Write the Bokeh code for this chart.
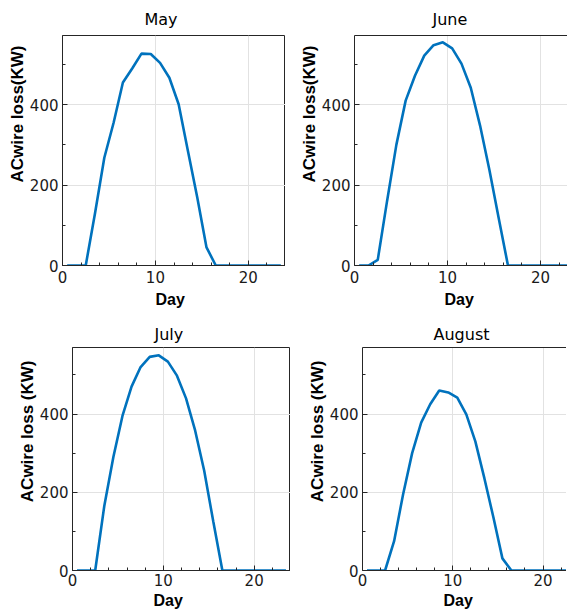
from bokeh.plotting import figure
from bokeh.layouts import column, row
from bokeh.models import Range1d, FixedTicker, Title, LinearAxis, Spacer
from bokeh.embed import file_html
from bokeh.resources import INLINE

# ---- data ----
hours = [0.5, 1.5, 2.5, 3.5, 4.5, 5.5, 6.5, 7.5, 8.5, 9.5, 10.5, 11.5,
         12.5, 13.5, 14.5, 15.5, 16.5, 17.5, 18.5, 19.5, 20.5, 21.5, 22.5, 23.5]
may = [0, 0, 0, 130, 268, 355, 455, 490, 527, 526, 504, 467,
       401, 285, 170, 45, 0, 0, 0, 0, 0, 0, 0, 0]
june = [0, 0, 14, 160, 300, 410, 472, 522, 548, 555, 540, 502,
        442, 348, 238, 118, 0, 0, 0, 0, 0, 0, 0, 0]
july = [0, 0, 0, 165, 290, 395, 470, 520, 546, 550, 534, 498,
        440, 358, 255, 125, 0, 0, 0, 0, 0, 0, 0, 0]
august = [0, 0, 0, 75, 195, 300, 378, 425, 460, 455, 442, 399,
          330, 236, 136, 31, 0, 0, 0, 0, 0, 0, 0, 0]
months = ["May", "June", "July", "August"]
ylabels = ["ACwire loss(KW)", "ACwire loss(KW)", "ACwire loss (KW)", "ACwire loss (KW)"]
xlabel = "Day"
x_ticks = [0, 10, 20]
x_minor = [2, 4, 6, 8, 12, 14, 16, 18, 22]
y_ticks = [0, 200, 400]
y_minor = [100, 300, 500]

LINE = "#0072BD"
AX = "#262626"
GRID = "#e2e2e2"


def make_panel(vals, month, ylab, fw, fh, x_end, y_end, title_off, day_off,
               ylab_off, full_box, xstand, t_stand, d_stand):
    p = figure(frame_width=fw, frame_height=fh, output_backend="svg",
               toolbar_location=None, title=None,
               x_range=Range1d(0, x_end), y_range=Range1d(0, y_end),
               min_border=0)
    p.background_fill_color = "white"
    p.border_fill_color = "white"
    xa = p.below[0]
    ya = p.left[0]
    if full_box:
        p.outline_line_color = AX
        p.outline_line_width = 1
        p.outline_line_alpha = 1
    else:
        p.outline_line_color = None
        top_ax = LinearAxis(ticker=FixedTicker(ticks=[]),
                            major_label_text_font_size="0px",
                            major_label_standoff=0,
                            major_tick_out=0, major_tick_in=0,
                            minor_tick_out=0, minor_tick_in=0,
                            axis_line_color=AX)
        p.add_layout(top_ax, "above")

    xa.ticker = FixedTicker(ticks=x_ticks, minor_ticks=x_minor)
    ya.ticker = FixedTicker(ticks=y_ticks, minor_ticks=y_minor)
    for ax in (xa, ya):
        ax.major_tick_in = 5
        ax.major_tick_out = 0
        ax.minor_tick_in = 3
        ax.minor_tick_out = 0
        ax.axis_line_color = AX
        ax.major_tick_line_color = AX
        ax.minor_tick_line_color = AX
        ax.major_label_text_font = "DejaVu Sans"
        ax.major_label_text_font_size = "15px"
        ax.major_label_text_color = "#1a1a1a"
    xa.major_label_standoff = xstand
    ya.major_label_standoff = 4

    p.xgrid.grid_line_color = GRID
    p.ygrid.grid_line_color = GRID

    p.line(hours, vals, line_color=LINE, line_width=2.6)

    p.add_layout(Title(text=month, align="left", offset=title_off,
                       text_font="DejaVu Sans", text_font_size="16px",
                       text_font_style="normal", text_color="black",
                       standoff=t_stand), "above")
    p.add_layout(Title(text=xlabel, align="left", offset=day_off,
                       text_font="Liberation Sans", text_font_size="16px",
                       text_font_style="bold", text_color="black",
                       standoff=d_stand), "below")
    p.add_layout(Title(text=ylab, align="right", offset=ylab_off,
                       text_font="Liberation Sans", text_font_size="17px",
                       text_font_style="bold", text_color="black",
                       standoff=0), "left")
    return p


p1 = make_panel(may, months[0], ylabels[0], 223, 230, 24, 572, 82, 93, 10, True, 5, 14, 6)
p2 = make_panel(june, months[1], ylabels[1], 213, 230, 22.9, 572, 78, 90, 10, False, 5, 14, 6)
p3 = make_panel(july, months[2], ylabels[2], 218, 223, 24, 570, 82, 81, 13, True, 3, 8, 2)
p4 = make_panel(august, months[3], ylabels[3], 204, 223, 22.6, 570, 71, 81, 13, False, 3, 8, 2)

layout = column(
    row(Spacer(width=5, height=10), p1, Spacer(width=12, height=10), p2),
    Spacer(width=10, height=8),
    row(Spacer(width=15, height=10), p3, Spacer(width=15, height=10), p4),
)
open("out.html", "w").write(file_html(layout, INLINE))
